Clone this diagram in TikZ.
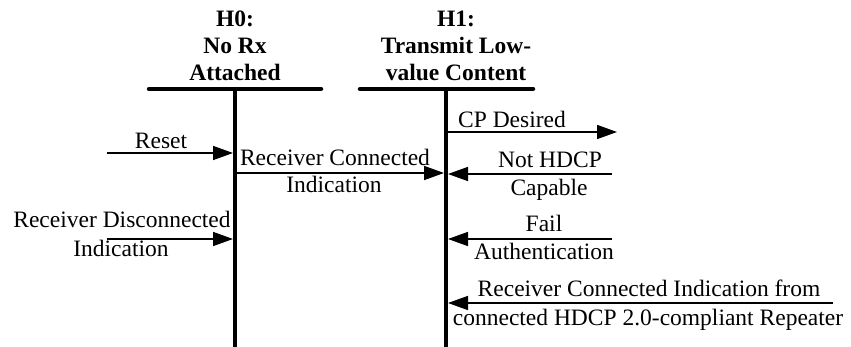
\documentclass[tikz,border=0pt]{standalone}
\usepackage{fontspec}
\setmainfont{Liberation Serif}
\usetikzlibrary{arrows.meta}
\begin{document}
\begin{tikzpicture}[x=1pt,y=-1pt,
  txt/.style={anchor=base,inner sep=0pt,font=\fontsize{23.5}{27}\selectfont},
  ttl/.style={anchor=base,inner sep=0pt,font=\fontsize{23.5}{27}\selectfont\bfseries},
  life/.style={line width=4pt},
  bar/.style={line width=4.5pt,line cap=round},
  msg/.style={line width=1.6pt,-{Triangle[length=20pt,width=14pt]}}]
\useasboundingbox (0,0) rectangle (851,347);
% titles
\node[ttl] (t0a) at (235,27) {H0:};
\node[ttl] (t0b) at (235,54) {No Rx};
\node[ttl] (t0c) at (235,81) {Attached};
\node[ttl] (t1a) at (456,27) {H1:};
\node[ttl] (t1b) at (456,54) {Transmit Low-};
\node[ttl] (t1c) at (456,81) {value Content};
% bars and lifelines
\coordinate (b0l) at (149,89); \coordinate (b0r) at (321,89);
\coordinate (b1l) at (360,89); \coordinate (b1r) at (533,89);
\coordinate (h0top) at (235,89); \coordinate (h0bot) at (235,347);
\coordinate (h1top) at (446,89); \coordinate (h1bot) at (446,347);
\draw[life] (h0top) -- (h0bot);
\draw[life] (h1top) -- (h1bot);
\draw[bar] (b0l) -- (b0r);
\draw[bar] (b1l) -- (b1r);
% message endpoints
\coordinate (rsA) at (107,153); \coordinate (rsB) at (233,153);
\coordinate (rcA) at (237,173); \coordinate (rcB) at (444,173);
\coordinate (cpA) at (448,132); \coordinate (cpB) at (617,132);
\coordinate (nhA) at (612,174); \coordinate (nhB) at (448,174);
\coordinate (faA) at (612,239); \coordinate (faB) at (448,239);
\coordinate (rpA) at (833,303); \coordinate (rpB) at (448,303);
\coordinate (rdA) at (107,239); \coordinate (rdB) at (233,239);
\draw[msg] (rsA) -- (rsB);
\draw[msg] (rcA) -- (rcB);
\draw[msg] (cpA) -- (cpB);
\draw[msg] (nhA) -- (nhB);
\draw[msg] (faA) -- (faB);
\draw[msg] (rpA) -- (rpB);
\draw[msg] (rdA) -- (rdB);
% labels
\node[txt] (lrs) at (161,149) {Reset};
\node[txt] (lrc1) at (335,166) {Receiver Connected};
\node[txt] (lrc2) at (334,193) {Indication};
\node[txt] (lcp) at (512,128) {CP Desired};
\node[txt] (lnh1) at (550,168) {Not HDCP};
\node[txt] (lnh2) at (549,196) {Capable};
\node[txt] (lfa1) at (544,232) {Fail};
\node[txt] (lfa2) at (544,260) {Authentication};
\node[txt] (lrp1) at (649,296) {Receiver Connected Indication from};
\node[txt] (lrp2) at (648,325) {connected HDCP 2.0-compliant Repeater};
\node[txt] (lrd1) at (122,228) {Receiver Disconnected};
\node[txt] (lrd2) at (121,257) {Indication};
\end{tikzpicture}
\end{document}
